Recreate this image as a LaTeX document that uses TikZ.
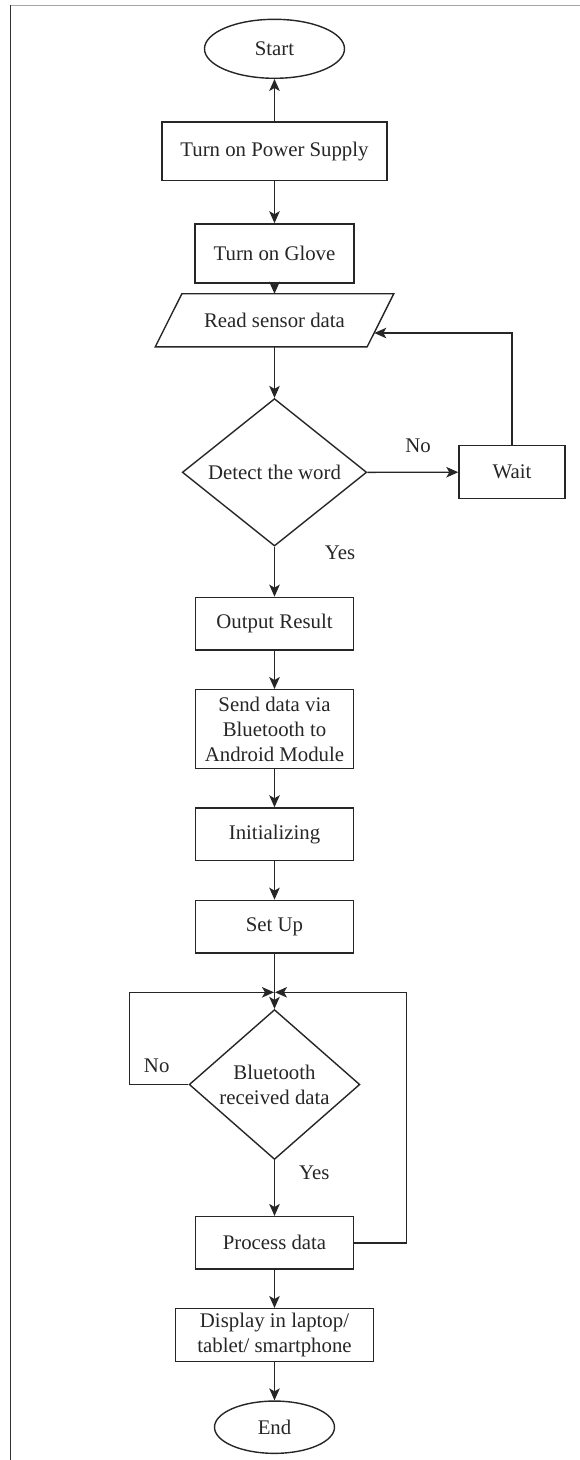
\documentclass[tikz,border=0pt]{standalone}
\usepackage{fontspec}
\setmainfont{Liberation Serif}
\usetikzlibrary{shapes.geometric,arrows.meta}
\begin{document}
\begin{tikzpicture}[x=1pt,y=-1pt,
  every node/.style={font=\fontsize{20.8}{25}\selectfont, text=black!85},
  box/.style={draw=black!85, line width=1.4pt, rectangle, minimum height=52.7pt, inner sep=2pt, align=center},
  oval/.style={draw=black!85, line width=1.4pt, ellipse, inner sep=0pt},
  dia/.style={draw=black!85, line width=1.4pt, diamond, inner sep=0pt, align=center},
  lbl/.style={inner sep=0pt},
  arr/.style={draw=black!85, line width=1.4pt, -{Stealth[length=12pt,width=10.5pt,inset=3pt]}},
  ln/.style={draw=black!85, line width=1.4pt}]
\useasboundingbox (0,0) rectangle (580,1460);
% frame remnants
\draw[gray!70, line width=1.2pt] (10,5.5) -- (580,5.5);
\draw[black!80, line width=1.2pt] (10.8,5) -- (10.8,1460);

\node[oval, minimum width=140pt, minimum height=59pt] (start) at (274.5,48.8) {Start};
\node[box, minimum width=225pt, minimum height=58.5pt] (power) at (274.5,151.3) {Turn on Power Supply};
\node[box, minimum width=158.7pt, minimum height=59pt] (glove) at (274.5,253.4) {Turn on Glove};
\node[minimum width=211.5pt, minimum height=52.7pt, inner sep=0pt] (read) at (274.5,320.3) {Read sensor data};
\draw[ln] ([xshift=13.3pt]read.north west) -- ([xshift=13.3pt]read.north east)
  -- ([xshift=-13.3pt]read.south east) -- ([xshift=-13.3pt]read.south west) -- cycle;
\node[dia, minimum width=184.4pt, minimum height=143.3pt] (detect) at (274.5,472.3) {Detect the word};
\node[box, minimum width=106pt, minimum height=53pt] (wait) at (512,472.2) {Wait};
\node[box, minimum width=158.4pt] (output) at (274.5,623.7) {Output Result};
\node[box, minimum width=158.4pt, minimum height=79pt] (send) at (274.5,729.2) {Send data via\\Bluetooth to\\Android Module};
\node[box, minimum width=158.4pt] (init) at (274.5,834.3) {Initializing};
\node[box, minimum width=158.4pt] (setup) at (274.5,926.7) {Set Up};
\node[dia, minimum width=170.7pt, minimum height=129.5pt] (bt) at (274.5,1084.5) {Bluetooth\\received data};
\node[box, minimum width=158.4pt, minimum height=52.3pt] (proc) at (274.5,1242.8) {Process data};
\node[box, minimum width=198.4pt, minimum height=53pt, inner sep=0pt] (disp) at (274.5,1335.2) {Display in laptop/\\tablet/ smartphone};
\node[oval, minimum width=120pt, minimum height=52.3pt] (end) at (274.5,1427.2) {End};

\node[lbl] (no1) at (418,446) {No};
\node[lbl] (yes1) at (340,552.7) {Yes};
\node[lbl] (no2) at (156.7,1065.7) {No};
\node[lbl] (yes2) at (314.3,1172.3) {Yes};

\coordinate (rin) at (374.3,333);
\coordinate (merge) at (274.5,992.3);
\coordinate (lcorner) at (129.3,1084.5);
\coordinate (rcorner) at (406.5,992.3);

\draw[arr] (power.north) -- (start.south);
\draw[arr] (power.south) -- (glove.north);
\draw[arr] (glove.south) -- (read.north);
\draw[arr] (read.south) -- (detect.north);
\draw[arr] (detect.east) -- (wait.west);
\draw[arr] (wait.north) |- (rin);
\draw[arr] (detect.south) -- (output.north);
\draw[arr] (output.south) -- (send.north);
\draw[arr] (send.south) -- (init.north);
\draw[arr] (init.south) -- (setup.north);
\draw[arr] (setup.south) -- (bt.north);
\draw[arr] (bt.west) -- (lcorner) |- ([xshift=-0.5pt]merge);
\draw[arr] (proc.east) -| (rcorner) -- ([xshift=0.5pt]merge);
\draw[arr] (bt.south) -- (proc.north);
\draw[arr] (proc.south) -- (disp.north);
\draw[arr] (disp.south) -- (end.north);
\end{tikzpicture}
\end{document}
